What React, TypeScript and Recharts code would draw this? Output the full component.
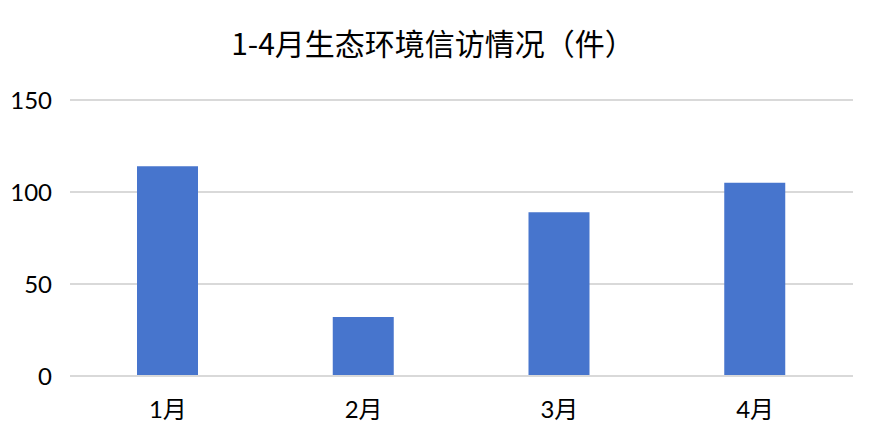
import { BarChart, Bar, XAxis, YAxis, CartesianGrid } from "recharts";

const months = ["1月", "2月", "3月", "4月"];
const petitions = [114, 32, 89, 105];
const yTicks = [0, 50, 100, 150];

const FONT = "Lato, 'Noto Sans CJK SC', sans-serif";
const BAR_COLOR = "#4775CD";
const GRID_COLOR = "#D9D9D9";

export default function App() {
  const data = months.map((m, i) => ({ month: m, value: petitions[i] }));

  return (
    <div style={{ position: "absolute", left: 0, top: 0, width: 886, height: 446, background: "#fff", fontFamily: FONT }}>
      <div
        style={{
          position: "absolute",
          top: 22,
          left: 0,
          width: 866,
          textAlign: "center",
          fontSize: 30,
          lineHeight: "40px",
          color: "#000",
          fontFamily: "'Noto Sans CJK SC', sans-serif",
        }}
      >
        1-4月生态环境信访情况（件）
      </div>
      <BarChart width={886} height={446} data={data} margin={{ top: 100, right: 33, bottom: 0, left: 0 }}>
        <CartesianGrid vertical={false} stroke={GRID_COLOR} strokeWidth={2} />
        <XAxis
          dataKey="month"
          height={70}
          axisLine={{ stroke: GRID_COLOR, strokeWidth: 2 }}
          tickLine={false}
          tickSize={0}
          tickMargin={25}
          tick={{ fontSize: 24, fill: "#000", fontFamily: FONT }}
        />
        <YAxis
          width={70}
          domain={[0, 150]}
          ticks={yTicks}
          axisLine={false}
          tickLine={false}
          tickSize={0}
          tickMargin={18}
          tick={{ fontSize: 24, fill: "#000", fontFamily: FONT }}
        />
        <Bar dataKey="value" fill={BAR_COLOR} barSize={61} isAnimationActive={false} />
      </BarChart>
    </div>
  );
}
